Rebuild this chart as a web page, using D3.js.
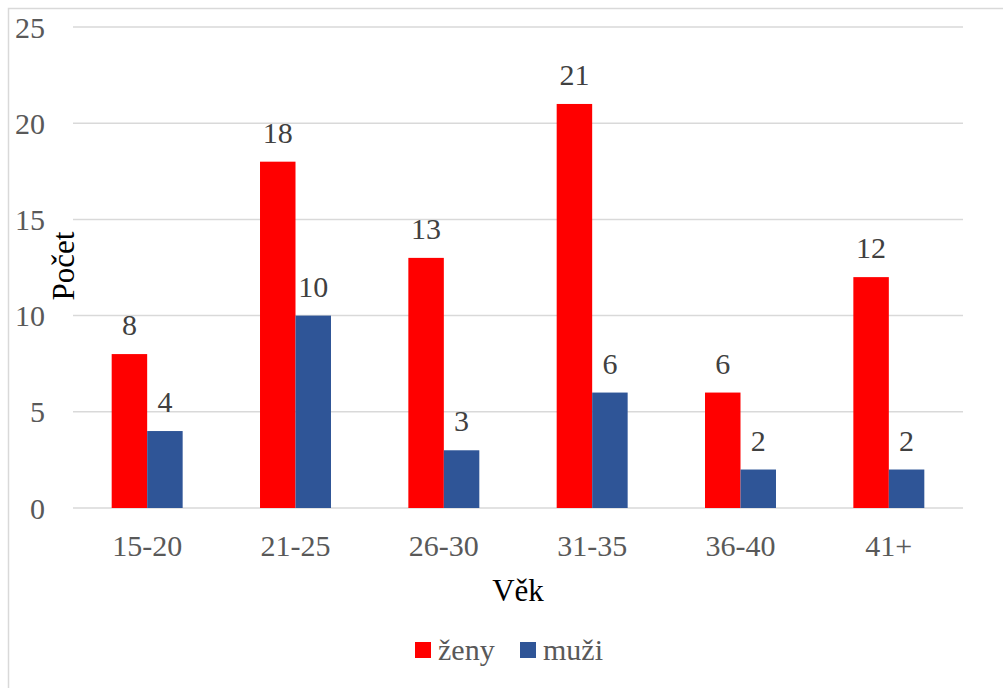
<!DOCTYPE html>
<html>
<head>
<meta charset="utf-8">
<script src="https://cdn.jsdelivr.net/npm/d3@7"></script>
<style>
  html, body { margin: 0; padding: 0; background: #fff; }
  svg { display: block; }
  text { font-family: "Liberation Serif", "Times New Roman", serif; }
</style>
</head>
<body>
<svg id="chart" width="1003" height="688"></svg>
<script>
const categories = ["15-20", "21-25", "26-30", "31-35", "36-40", "41+"];
const seriesNames = ["ženy", "muži"];
const zeny = [8, 18, 13, 21, 6, 12];
const muzi = [4, 10, 3, 6, 2, 2];
const yTicks = [0, 5, 10, 15, 20, 25];
const colors = ["#FF0000", "#2F5597"];
const xTitle = "Věk";
const yTitle = "Počet";

(function () {
const seriesValues = [zeny, muzi];

const svg = d3.select("#chart");

// outer chart border
svg.append("rect")
  .attr("x", 8.5).attr("y", 8.5)
  .attr("width", 1100).attr("height", 800)
  .attr("fill", "none").attr("stroke", "#d9d9d9").attr("stroke-width", 1.5);

const pLeft = 73, pRight = 963, pTop = 27, pBottom = 508;

const x = d3.scaleBand().domain(categories).range([pLeft, pRight]).paddingInner(0).paddingOuter(0);
const xSub = d3.scaleBand().domain(seriesNames).range([0, x.bandwidth()]).paddingInner(0).paddingOuter(1.09);
const y = d3.scaleLinear().domain([0, 25]).range([pBottom, pTop]);

// gridlines
svg.append("g").selectAll("line").data(yTicks).join("line")
  .attr("x1", pLeft).attr("x2", pRight)
  .attr("y1", d => y(d)).attr("y2", d => y(d))
  .attr("stroke", "#d9d9d9").attr("stroke-width", 1.5);

// y tick labels
svg.append("g").selectAll("text").data(yTicks).join("text")
  .attr("x", 45).attr("y", d => y(d))
  .attr("dy", "0.35em")
  .attr("text-anchor", "end")
  .attr("font-size", 30)
  .attr("fill", "#595959")
  .text(d => d);

// bars
const groups = svg.append("g").selectAll("g").data(categories).join("g")
  .attr("transform", d => `translate(${x(d)},0)`);

groups.selectAll("rect")
  .data((c, i) => seriesNames.map((s, j) => ({ s, v: seriesValues[j][i], j })))
  .join("rect")
  .attr("x", d => xSub(d.s))
  .attr("width", xSub.bandwidth())
  .attr("y", d => y(d.v))
  .attr("height", d => y(0) - y(d.v))
  .attr("fill", d => colors[d.j]);

// data labels
groups.selectAll("text")
  .data((c, i) => seriesNames.map((s, j) => ({ s, v: seriesValues[j][i], j })))
  .join("text")
  .attr("x", d => xSub(d.s) + xSub.bandwidth() / 2)
  .attr("y", d => y(d.v) - 19)
  .attr("text-anchor", "middle")
  .attr("font-size", 30)
  .attr("fill", "#404040")
  .text(d => d.v);

// x tick labels
svg.append("g").selectAll("text").data(categories).join("text")
  .attr("x", d => x(d) + x.bandwidth() / 2)
  .attr("y", 556)
  .attr("text-anchor", "middle")
  .attr("font-size", 30)
  .attr("fill", "#595959")
  .text(d => d);

// axis titles
svg.append("text")
  .attr("x", 518).attr("y", 601)
  .attr("text-anchor", "middle")
  .attr("font-size", 31)
  .attr("fill", "#000")
  .text(xTitle);

svg.append("text")
  .attr("transform", "translate(74,266) rotate(-90)")
  .attr("text-anchor", "middle")
  .attr("font-size", 31)
  .attr("fill", "#000")
  .text(yTitle);

// legend
const legendItems = [{ name: seriesNames[0], sx: 415, tx: 438 }, { name: seriesNames[1], sx: 520, tx: 543 }];
const lg = svg.append("g");
legendItems.forEach((it, i) => {
  lg.append("rect").attr("x", it.sx).attr("y", 642).attr("width", 16).attr("height", 16).attr("fill", colors[i]);
  lg.append("text").attr("x", it.tx).attr("y", 660).attr("font-size", 30).attr("fill", "#595959").text(it.name);
});
})();
</script>
</body>
</html>
